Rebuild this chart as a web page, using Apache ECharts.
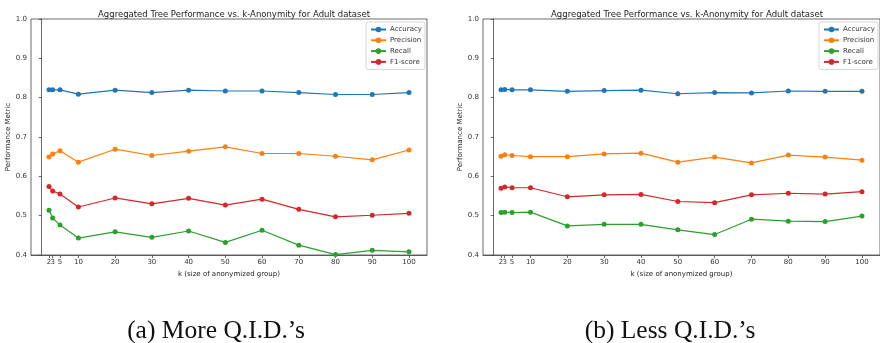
<!DOCTYPE html>
<html>
<head>
<meta charset="utf-8">
<script src="https://cdn.jsdelivr.net/npm/echarts@6/dist/echarts.min.js"></script>
<style>
  html, body { margin: 0; padding: 0; background: #fff; }
  #chart { width: 880px; height: 343px; }
</style>
</head>
<body>
<div id="chart"></div>
<script>
// k values (size of anonymized group)
const kValues = [2, 3, 5, 10, 20, 30, 40, 50, 60, 70, 80, 90, 100];
const xTickLabels = [2, 3, 5, 10, 20, 30, 40, 50, 60, 70, 80, 90, 100];
const yTickLabels = [0.4, 0.5, 0.6, 0.7, 0.8, 0.9, 1.0];
const metricNames = ['Accuracy', 'Precision', 'Recall', 'F1-score'];
const metricColors = ['#1f77b4', '#ff7f0e', '#2ca02c', '#d62728'];

// (a) More Q.I.D.'s
const moreAccuracy  = [0.820, 0.820, 0.820, 0.809, 0.819, 0.813, 0.819, 0.817, 0.817, 0.813, 0.808, 0.808, 0.813];
const morePrecision = [0.649, 0.657, 0.665, 0.636, 0.669, 0.653, 0.664, 0.675, 0.658, 0.658, 0.651, 0.642, 0.667];
const moreRecall    = [0.514, 0.494, 0.476, 0.443, 0.459, 0.445, 0.461, 0.432, 0.463, 0.425, 0.401, 0.412, 0.408];
const moreF1        = [0.574, 0.563, 0.555, 0.522, 0.545, 0.530, 0.544, 0.527, 0.542, 0.516, 0.497, 0.501, 0.506];

// (b) Less Q.I.D.'s
const lessAccuracy  = [0.820, 0.821, 0.820, 0.820, 0.816, 0.818, 0.819, 0.810, 0.813, 0.812, 0.817, 0.816, 0.816];
const lessPrecision = [0.651, 0.655, 0.653, 0.650, 0.650, 0.657, 0.659, 0.636, 0.649, 0.634, 0.654, 0.649, 0.641];
const lessRecall    = [0.508, 0.509, 0.508, 0.509, 0.474, 0.478, 0.478, 0.464, 0.452, 0.491, 0.486, 0.485, 0.499];
const lessF1        = [0.570, 0.573, 0.571, 0.571, 0.548, 0.553, 0.554, 0.536, 0.533, 0.553, 0.557, 0.555, 0.561];

const panelTitle = 'Aggregated Tree Performance vs. k-Anonymity for Adult dataset';
const captions = ['(a) More Q.I.D.\u2019s', '(b) Less Q.I.D.\u2019s'];

const sansFont = '"DejaVu Sans", sans-serif';
const serifFont = '"Liberation Serif", "DejaVu Serif", serif';

const grids = [
  { left: 31, top: 19, width: 396, height: 236 },
  { left: 483, top: 19, width: 398, height: 236 }
];

// Tick labels 2 and 3 sit almost on top of each other; the label for 3 is
// carried by a second, line-less bottom axis so it is not dropped as overlapping.
const mainTickLabels = xTickLabels.filter(v => v !== 3);
const extraTickLabels = xTickLabels.filter(v => v === 3);

const labelStyle = { fontFamily: sansFont, fontSize: 7, color: '#333', margin: 4 };

function xAxesFor(gi) {
  return [{
    type: 'value', gridIndex: gi, min: -2.9, max: 104.9, position: 'bottom',
    name: 'k (size of anonymized group)', nameLocation: 'middle', nameGap: 15,
    nameTextStyle: { fontFamily: sansFont, fontSize: 7, color: '#222' },
    axisLine: { show: true, lineStyle: { color: '#444', width: 0.8 } },
    axisTick: { show: true, length: 3, lineStyle: { color: '#444', width: 0.8 }, customValues: xTickLabels },
    axisLabel: Object.assign({ customValues: mainTickLabels, showMinLabel: true, showMaxLabel: true }, labelStyle),
    splitLine: { show: false }
  }, {
    type: 'value', gridIndex: gi, min: -2.9, max: 104.9, position: 'bottom', offset: 0,
    axisLine: { show: false },
    axisTick: { show: false },
    axisLabel: Object.assign({ customValues: extraTickLabels, showMinLabel: true, showMaxLabel: true }, labelStyle),
    splitLine: { show: false }
  }];
}

function yAxisFor(gi) {
  return {
    type: 'value', gridIndex: gi, min: 0.4, max: 1.0, interval: 0.1,
    name: 'Performance Metric', nameLocation: 'middle', nameGap: 19,
    nameTextStyle: { fontFamily: sansFont, fontSize: 7, color: '#222' },
    axisLine: { show: true, lineStyle: { color: '#444', width: 0.8 } },
    axisTick: { show: true, length: 3, lineStyle: { color: '#444', width: 0.8 } },
    axisLabel: Object.assign({ formatter: v => (Math.round(v * 10) / 10).toFixed(1) }, labelStyle),
    splitLine: { show: false }
  };
}

const panelData = [
  [moreAccuracy, morePrecision, moreRecall, moreF1],
  [lessAccuracy, lessPrecision, lessRecall, lessF1]
];

const series = [];
panelData.forEach((sets, gi) => {
  sets.forEach((vals, si) => {
    series.push({
      type: 'line', name: metricNames[si],
      xAxisIndex: gi * 2, yAxisIndex: gi,
      data: kValues.map((k, i) => [k, vals[i]]),
      symbol: 'circle', symbolSize: 5, showSymbol: true,
      itemStyle: { color: metricColors[si] },
      lineStyle: { color: metricColors[si], width: 1.2 },
      emphasis: { disabled: true },
      animation: false
    });
  });
});

function legendFor(left) {
  return {
    left: left, top: 22, orient: 'vertical',
    data: metricNames,
    itemWidth: 15, itemHeight: 7, itemGap: 3.8,
    padding: [4, 3, 4, 4],
    borderColor: '#ccc', borderWidth: 0.8, borderRadius: 2,
    backgroundColor: 'rgba(255,255,255,0.8)',
    textStyle: { fontFamily: sansFont, fontSize: 7, color: '#333', padding: [0, 0, 0, -1] },
    selectedMode: false
  };
}

const chart = echarts.init(document.getElementById('chart'), null, { renderer: 'canvas' });
chart.setOption({
  backgroundColor: '#fff',
  animation: false,
  title: [
    { text: panelTitle, left: 229, top: 5, textAlign: 'center',
      textStyle: { fontFamily: sansFont, fontSize: 8.5, fontWeight: 'normal', color: '#222' } },
    { text: panelTitle, left: 682, top: 5, textAlign: 'center',
      textStyle: { fontFamily: sansFont, fontSize: 8.5, fontWeight: 'normal', color: '#222' } },
    { text: captions[0], left: 211, top: 313, textAlign: 'center',
      textStyle: { fontFamily: serifFont, fontSize: 25.5, fontWeight: 'normal', color: '#111' } },
    { text: captions[1], left: 665, top: 313, textAlign: 'center',
      textStyle: { fontFamily: serifFont, fontSize: 25.5, fontWeight: 'normal', color: '#111' } }
  ],
  grid: grids.map(g => Object.assign({ show: true, borderColor: '#444', borderWidth: 0.8, backgroundColor: 'transparent' }, g)),
  xAxis: xAxesFor(0).concat(xAxesFor(1)),
  yAxis: [yAxisFor(0), yAxisFor(1)],
  legend: [legendFor(366), legendFor(819)],
  series: series
});
</script>
</body>
</html>
